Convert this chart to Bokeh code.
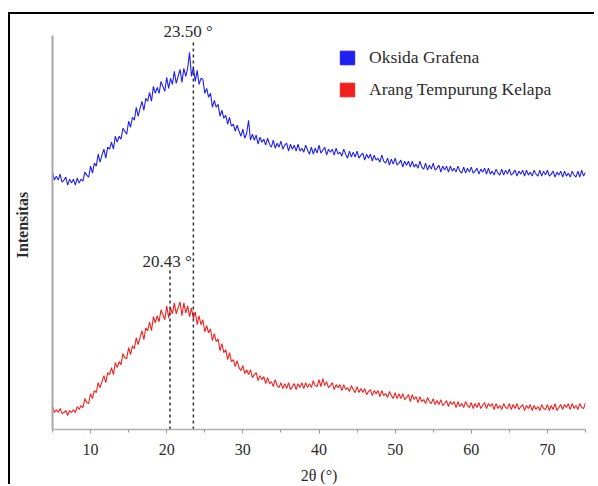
import numpy as np
from bokeh.plotting import figure
from bokeh.models import (ColumnDataSource, Label, Legend, LegendItem,
                          FixedTicker, Range1d)
from bokeh.embed import file_html
from bokeh.resources import INLINE

# ---- data -------------------------------------------------------------
two_theta = np.arange(5.0, 75.25, 0.25)

oksida_grafena = [
    258, 250, 254, 250,   256, 248, 250, 253,   245, 251, 247, 251,
    245, 252, 247, 251,   249, 258, 255, 253,   264, 257, 267, 264,
    276, 268, 275, 281,   272, 283, 281, 288,   281, 294, 288, 294,
    291, 302, 299, 296,   309, 303, 313, 310,   323, 314, 322, 329,
    320, 332, 329, 338,   329, 344, 337, 343,   337, 349, 344, 339,
    353, 342, 352, 346,   359, 347, 354, 361,   348, 362, 354, 362,
    378, 354, 363, 349,   360, 346, 352, 351,   337, 342, 333, 337,
    323, 330, 323, 326,   314, 320, 312, 315,   306, 313, 304, 306,
    299, 305, 299, 294,   301, 292, 297, 310,   290, 296, 290, 295,
    286, 293, 288, 291,   285, 292, 286, 283,   290, 282, 287, 283,
    289, 281, 285, 287,   279, 286, 281, 285,   279, 286, 279, 282,
    278, 285, 280, 276,   283, 276, 282, 277,   285, 277, 280, 283,
    275, 281, 278, 281,   275, 282, 276, 278,   274, 281, 276, 272,
    279, 273, 278, 273,   279, 272, 275, 277,   270, 276, 272, 276,
    269, 275, 270, 272,   268, 275, 269, 267,   272, 265, 271, 266,
    272, 265, 267, 270,   263, 269, 265, 269,   263, 269, 263, 266,
    262, 269, 263, 261,   267, 260, 265, 261,   267, 260, 262, 265,
    258, 264, 260, 264,   258, 264, 259, 262,   258, 264, 259, 257,
    263, 257, 262, 258,   263, 257, 259, 262,   256, 261, 258, 262,
    256, 262, 256, 259,   255, 261, 257, 255,   261, 255, 260, 256,
    261, 255, 257, 260,   254, 259, 256, 260,   254, 260, 255, 258,
    254, 260, 256, 254,   260, 254, 259, 255,   260, 254, 256, 259,
    253, 258, 255, 259,   253, 259, 254, 257,   253, 259, 255, 253,
    259, 253, 260, 254,
    258,
]

arang_tempurung = [
    23, 17, 20, 17,   21, 16, 17, 19,   14, 19, 17, 20,
    17, 23, 20, 24,   22, 31, 27, 26,   36, 31, 39, 37,
    47, 42, 48, 54,   47, 57, 55, 62,   55, 67, 62, 68,
    65, 76, 72, 71,   82, 75, 84, 81,   92, 85, 92, 99,
    90, 102, 99, 108, 99, 113, 107, 114, 108, 120, 115, 110,
    124, 112, 122, 116, 127, 116, 122, 128, 114, 127, 117, 124,
    113, 122, 111, 118, 105, 114, 105, 110, 98, 104, 97, 101,
    89, 96, 88, 91,   79, 86, 77, 80,   70, 77, 68, 70,
    63, 69, 62, 59,   64, 56, 60, 55,   60, 52, 55, 57,
    49, 54, 50, 53,   46, 52, 46, 48,   43, 50, 44, 42,
    47, 41, 46, 41,   47, 40, 43, 46,   40, 46, 42, 47,
    41, 47, 42, 46,   42, 49, 44, 43,   50, 43, 51, 44,
    48, 42, 44, 47,   40, 45, 42, 45,   39, 45, 40, 42,
    38, 44, 40, 37,   43, 37, 41, 37,   41, 35, 38, 40,
    34, 39, 36, 39,   33, 39, 34, 36,   32, 38, 34, 31,
    37, 31, 36, 31,   36, 30, 32, 35,   28, 35, 30, 33,
    27, 33, 28, 30,   26, 32, 28, 26,   31, 25, 29, 25,
    30, 24, 26, 29,   23, 28, 25, 28,   22, 28, 23, 26,
    22, 28, 24, 22,   27, 21, 26, 22,   27, 21, 24, 27,
    21, 26, 23, 26,   20, 26, 21, 24,   20, 26, 22, 21,
    26, 20, 25, 21,   26, 20, 23, 25,   19, 24, 21, 25,
    19, 24, 20, 23,   19, 25, 21, 20,   25, 19, 24, 20,
    26, 19, 22, 25,   20, 25, 22, 26,   20, 26, 21, 24,
    20, 26, 22, 21,
    27,
]

series_names = ["Oksida Grafena", "Arang Tempurung Kelapa"]
series_colors = ["#2020f0", "#f02020"]

peak_positions = [20.43, 23.50]
peak_line_tops = [160, 390]
peak_labels = ["20.43 \u00b0", "23.50 \u00b0"]
peak_label_x = [20.05, 22.8]
peak_label_y = [168, 399]

x_major_ticks = [10, 20, 30, 40, 50, 60, 70]
x_minor_ticks = [5, 15, 25, 35, 45, 55, 65, 75]

SERIF = "Liberation Serif"
TEXT = "#2b2b2b"

# ---- figure -----------------------------------------------------------
p = figure(width=586, height=472, output_backend="svg", toolbar_location=None,
           x_range=Range1d(5, 75), y_range=Range1d(0, 410),
           min_border_left=40, min_border_right=11, min_border_top=6,
           min_border_bottom=56)
# panel frame: dark edge on the left and top, as in the source screenshot
p.styles = {"margin-left": "10px", "margin-top": "14px",
            "box-shadow": "-2px -2px 0px 0px black"}
p.outline_line_color = None
p.xgrid.visible = False
p.ygrid.visible = False
p.background_fill_color = "white"
p.border_fill_color = "white"

# x axis
xa = p.xaxis[0]
xa.ticker = FixedTicker(ticks=x_major_ticks, minor_ticks=x_minor_ticks)
xa.axis_line_color = "#b0b0b0"
xa.axis_line_width = 1.5
xa.major_tick_line_color = "#999999"
xa.minor_tick_line_color = "#999999"
xa.major_tick_in = 0
xa.major_tick_out = 4
xa.minor_tick_in = 0
xa.minor_tick_out = 3
xa.major_label_text_font = SERIF
xa.major_label_text_font_size = "16px"
xa.major_label_text_color = TEXT
xa.major_label_standoff = 10
xa.axis_label = "2\u03b8 (\u00b0)"
xa.axis_label_text_font = SERIF
xa.axis_label_text_font_size = "16px"
xa.axis_label_text_font_style = "normal"
xa.axis_label_text_color = TEXT
xa.axis_label_standoff = 9

# y axis
ya = p.yaxis[0]
ya.ticker = FixedTicker(ticks=[])
ya.bounds = (0, 395)
ya.axis_line_color = "#a8a8a8"
ya.axis_line_width = 2
ya.major_tick_out = 0
ya.major_tick_in = 0
ya.minor_tick_out = 0
ya.minor_tick_in = 0
ya.axis_label = "Intensitas"
ya.axis_label_text_font = SERIF
ya.axis_label_text_font_size = "16px"
ya.axis_label_text_font_style = "bold"
ya.axis_label_text_color = TEXT
ya.axis_label_standoff = 22

# series
src = ColumnDataSource(dict(x=two_theta, og=oksida_grafena, at=arang_tempurung))
p.line("x", "og", source=src, line_color=series_colors[0], line_width=1.1)
p.line("x", "at", source=src, line_color=series_colors[1], line_width=1.1)

# peak marker lines
p.segment(x0=peak_positions, y0=[0, 0], x1=peak_positions, y1=peak_line_tops,
          line_color="#333333", line_width=1.5, line_dash="3 3")
for t, lx, ly in zip(peak_labels, peak_label_x, peak_label_y):
    p.add_layout(Label(x=lx, y=ly, text=t, text_font=SERIF, text_font_size="17px",
                       text_color=TEXT, text_align="center", text_baseline="middle"))

# legend (square swatches; the proxy quads hold no visible data)
items = []
for name, col in zip(series_names, series_colors):
    r = p.quad(left=[np.nan], right=[np.nan], top=[np.nan], bottom=[np.nan],
               fill_color=col, line_color=col)
    items.append(LegendItem(label=name, renderers=[r]))
legend = Legend(items=items, location=(286, 329), orientation="vertical",
                border_line_color=None, background_fill_alpha=0,
                padding=0, margin=0, spacing=11,
                glyph_width=18, glyph_height=17, label_height=17,
                label_standoff=13, label_text_font=SERIF,
                label_text_font_size="17.5px", label_text_color=TEXT)
p.add_layout(legend)

open("out.html", "w").write(file_html(p, INLINE))
